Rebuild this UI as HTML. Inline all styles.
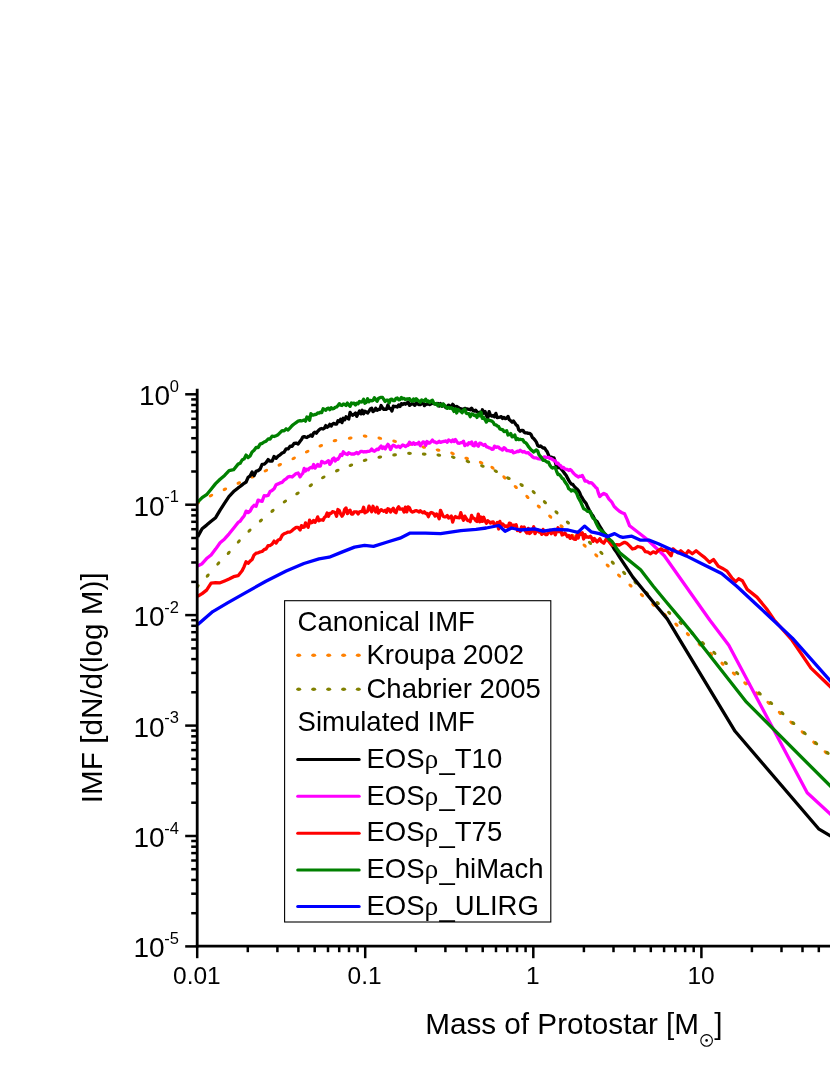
<!DOCTYPE html>
<html><head><meta charset="utf-8"><title>IMF</title>
<style>html,body{margin:0;padding:0;background:#fff;}svg{display:block;will-change:transform;}text{font-family:"Liberation Sans",sans-serif;}</style>
</head><body>
<svg width="830" height="1075" viewBox="0 0 830 1075">
<rect x="0" y="0" width="830" height="1075" fill="#ffffff"/>
<defs><clipPath id="plot"><rect x="197" y="380" width="640" height="567"/></clipPath></defs>
<g fill="#FF8000" clip-path="url(#plot)"><ellipse cx="197.6" cy="503.2" rx="2.4" ry="1.6" transform="rotate(-30 197.6 503.2)"/><ellipse cx="211.0" cy="495.6" rx="2.4" ry="1.6" transform="rotate(-24 211.0 495.6)"/><ellipse cx="224.9" cy="489.3" rx="2.4" ry="1.6" transform="rotate(-24 224.9 489.3)"/><ellipse cx="238.8" cy="483.0" rx="2.4" ry="1.6" transform="rotate(-24 238.8 483.0)"/><ellipse cx="252.8" cy="476.7" rx="2.4" ry="1.6" transform="rotate(-25 252.8 476.7)"/><ellipse cx="265.9" cy="470.6" rx="2.4" ry="1.6" transform="rotate(-23 265.9 470.6)"/><ellipse cx="279.8" cy="464.8" rx="2.4" ry="1.6" transform="rotate(-25 279.8 464.8)"/><ellipse cx="293.7" cy="458.4" rx="2.4" ry="1.6" transform="rotate(-27 293.7 458.4)"/><ellipse cx="307.2" cy="451.6" rx="2.4" ry="1.6" transform="rotate(-23 307.2 451.6)"/><ellipse cx="320.8" cy="445.8" rx="2.4" ry="1.6" transform="rotate(-20 320.8 445.8)"/><ellipse cx="335.0" cy="440.7" rx="2.4" ry="1.6" transform="rotate(-9 335.0 440.7)"/><ellipse cx="350.2" cy="438.2" rx="2.4" ry="1.6" transform="rotate(-8 350.2 438.2)"/><ellipse cx="365.1" cy="436.2" rx="2.4" ry="1.6" transform="rotate(8 365.1 436.2)"/><ellipse cx="379.8" cy="438.2" rx="2.4" ry="1.6" transform="rotate(11 379.8 438.2)"/><ellipse cx="394.6" cy="441.2" rx="2.4" ry="1.6" transform="rotate(12 394.6 441.2)"/><ellipse cx="409.0" cy="444.3" rx="2.4" ry="1.6" transform="rotate(11 409.0 444.3)"/><ellipse cx="423.7" cy="447.1" rx="2.4" ry="1.6" transform="rotate(12 423.7 447.1)"/><ellipse cx="438.1" cy="450.1" rx="2.4" ry="1.6" transform="rotate(13 438.1 450.1)"/><ellipse cx="452.5" cy="453.4" rx="2.4" ry="1.6" transform="rotate(19 452.5 453.4)"/><ellipse cx="466.7" cy="458.4" rx="2.4" ry="1.6" transform="rotate(17 466.7 458.4)"/><ellipse cx="481.1" cy="462.7" rx="2.4" ry="1.6" transform="rotate(24 481.1 462.7)"/><ellipse cx="492.5" cy="467.8" rx="2.4" ry="1.6" transform="rotate(39 492.5 467.8)"/><ellipse cx="504.4" cy="477.4" rx="2.4" ry="1.6" transform="rotate(40 504.4 477.4)"/><ellipse cx="515.8" cy="487.0" rx="2.4" ry="1.6" transform="rotate(40 515.8 487.0)"/><ellipse cx="527.4" cy="496.9" rx="2.4" ry="1.6" transform="rotate(40 527.4 496.9)"/><ellipse cx="538.8" cy="506.5" rx="2.4" ry="1.6" transform="rotate(42 538.8 506.5)"/><ellipse cx="550.2" cy="516.6" rx="2.4" ry="1.6" transform="rotate(40 550.2 516.6)"/><ellipse cx="561.6" cy="526.3" rx="2.4" ry="1.6" transform="rotate(40 561.6 526.3)"/><ellipse cx="573.0" cy="535.8" rx="2.4" ry="1.6" transform="rotate(40 573.0 535.8)"/><ellipse cx="584.6" cy="545.6" rx="2.4" ry="1.6" transform="rotate(40 584.6 545.6)"/><ellipse cx="596.3" cy="555.4" rx="2.4" ry="1.6" transform="rotate(42 596.3 555.4)"/><ellipse cx="607.7" cy="565.5" rx="2.4" ry="1.6" transform="rotate(42 607.7 565.5)"/><ellipse cx="619.1" cy="575.6" rx="2.4" ry="1.6" transform="rotate(41 619.1 575.6)"/><ellipse cx="630.5" cy="585.5" rx="2.4" ry="1.6" transform="rotate(40 630.5 585.5)"/><ellipse cx="641.9" cy="595.1" rx="2.4" ry="1.6" transform="rotate(40 641.9 595.1)"/><ellipse cx="653.3" cy="604.7" rx="2.4" ry="1.6" transform="rotate(41 653.3 604.7)"/><ellipse cx="665.2" cy="614.9" rx="2.4" ry="1.6" transform="rotate(41 665.2 614.9)"/><ellipse cx="676.5" cy="624.7" rx="2.4" ry="1.6" transform="rotate(40 676.5 624.7)"/><ellipse cx="687.9" cy="634.2" rx="2.4" ry="1.6" transform="rotate(41 687.9 634.2)"/><ellipse cx="699.7" cy="644.5" rx="2.4" ry="1.6" transform="rotate(40 699.7 644.5)"/><ellipse cx="711.1" cy="653.9" rx="2.4" ry="1.6" transform="rotate(41 711.1 653.9)"/><ellipse cx="722.5" cy="663.7" rx="2.4" ry="1.6" transform="rotate(41 722.5 663.7)"/><ellipse cx="733.9" cy="673.6" rx="2.4" ry="1.6" transform="rotate(40 733.9 673.6)"/><ellipse cx="745.3" cy="683.3" rx="2.4" ry="1.6" transform="rotate(41 745.3 683.3)"/><ellipse cx="757.1" cy="693.4" rx="2.4" ry="1.6" transform="rotate(40 757.1 693.4)"/><ellipse cx="768.5" cy="702.9" rx="2.4" ry="1.6" transform="rotate(41 768.5 702.9)"/><ellipse cx="779.9" cy="712.9" rx="2.4" ry="1.6" transform="rotate(40 779.9 712.9)"/><ellipse cx="791.4" cy="722.6" rx="2.4" ry="1.6" transform="rotate(41 791.4 722.6)"/><ellipse cx="802.7" cy="732.3" rx="2.4" ry="1.6" transform="rotate(42 802.7 732.3)"/><ellipse cx="814.3" cy="742.7" rx="2.4" ry="1.6" transform="rotate(40 814.3 742.7)"/><ellipse cx="825.7" cy="752.3" rx="2.4" ry="1.6" transform="rotate(40 825.7 752.3)"/></g>
<g fill="#808000" clip-path="url(#plot)"><ellipse cx="197.6" cy="586.3" rx="2.4" ry="1.6" transform="rotate(-47 197.6 586.3)"/><ellipse cx="207.7" cy="575.6" rx="2.4" ry="1.6" transform="rotate(-49 207.7 575.6)"/><ellipse cx="218.3" cy="563.5" rx="2.4" ry="1.6" transform="rotate(-46 218.3 563.5)"/><ellipse cx="228.7" cy="552.9" rx="2.4" ry="1.6" transform="rotate(-48 228.7 552.9)"/><ellipse cx="238.8" cy="541.5" rx="2.4" ry="1.6" transform="rotate(-46 238.8 541.5)"/><ellipse cx="249.5" cy="530.6" rx="2.4" ry="1.6" transform="rotate(-42 249.5 530.6)"/><ellipse cx="260.9" cy="520.5" rx="2.4" ry="1.6" transform="rotate(-40 260.9 520.5)"/><ellipse cx="272.5" cy="510.9" rx="2.4" ry="1.6" transform="rotate(-37 272.5 510.9)"/><ellipse cx="284.9" cy="501.5" rx="2.4" ry="1.6" transform="rotate(-33 284.9 501.5)"/><ellipse cx="297.5" cy="493.4" rx="2.4" ry="1.6" transform="rotate(-31 297.5 493.4)"/><ellipse cx="310.8" cy="485.3" rx="2.4" ry="1.6" transform="rotate(-32 310.8 485.3)"/><ellipse cx="323.3" cy="477.4" rx="2.4" ry="1.6" transform="rotate(-26 323.3 477.4)"/><ellipse cx="337.3" cy="470.6" rx="2.4" ry="1.6" transform="rotate(-21 337.3 470.6)"/><ellipse cx="350.9" cy="465.3" rx="2.4" ry="1.6" transform="rotate(-20 350.9 465.3)"/><ellipse cx="365.1" cy="460.2" rx="2.4" ry="1.6" transform="rotate(-12 365.1 460.2)"/><ellipse cx="379.8" cy="457.2" rx="2.4" ry="1.6" transform="rotate(-9 379.8 457.2)"/><ellipse cx="394.6" cy="454.9" rx="2.4" ry="1.6" transform="rotate(-6 394.6 454.9)"/><ellipse cx="409.5" cy="453.4" rx="2.4" ry="1.6" transform="rotate(3 409.5 453.4)"/><ellipse cx="424.2" cy="454.1" rx="2.4" ry="1.6" transform="rotate(4 424.2 454.1)"/><ellipse cx="438.8" cy="455.2" rx="2.4" ry="1.6" transform="rotate(8 438.8 455.2)"/><ellipse cx="453.3" cy="457.2" rx="2.4" ry="1.6" transform="rotate(16 453.3 457.2)"/><ellipse cx="467.9" cy="461.5" rx="2.4" ry="1.6" transform="rotate(17 467.9 461.5)"/><ellipse cx="482.4" cy="466.0" rx="2.4" ry="1.6" transform="rotate(21 482.4 466.0)"/><ellipse cx="495.8" cy="471.1" rx="2.4" ry="1.6" transform="rotate(29 495.8 471.1)"/><ellipse cx="508.4" cy="478.2" rx="2.4" ry="1.6" transform="rotate(27 508.4 478.2)"/><ellipse cx="521.6" cy="485.0" rx="2.4" ry="1.6" transform="rotate(30 521.6 485.0)"/><ellipse cx="533.7" cy="492.1" rx="2.4" ry="1.6" transform="rotate(42 533.7 492.1)"/><ellipse cx="544.9" cy="502.2" rx="2.4" ry="1.6" transform="rotate(41 544.9 502.2)"/><ellipse cx="556.5" cy="512.3" rx="2.4" ry="1.6" transform="rotate(42 556.5 512.3)"/><ellipse cx="567.9" cy="522.5" rx="2.4" ry="1.6" transform="rotate(42 567.9 522.5)"/><ellipse cx="579.0" cy="532.6" rx="2.4" ry="1.6" transform="rotate(43 579.0 532.6)"/><ellipse cx="590.0" cy="542.8" rx="2.4" ry="1.6" transform="rotate(42 590.0 542.8)"/><ellipse cx="601.4" cy="552.9" rx="2.4" ry="1.6" transform="rotate(41 601.4 552.9)"/><ellipse cx="612.8" cy="562.7" rx="2.4" ry="1.6" transform="rotate(42 612.8 562.7)"/><ellipse cx="624.2" cy="572.9" rx="2.4" ry="1.6" transform="rotate(40 624.2 572.9)"/><ellipse cx="635.5" cy="582.5" rx="2.4" ry="1.6" transform="rotate(43 635.5 582.5)"/><ellipse cx="646.9" cy="593.1" rx="2.4" ry="1.6" transform="rotate(42 646.9 593.1)"/><ellipse cx="657.8" cy="603.0" rx="2.4" ry="1.6" transform="rotate(41 657.8 603.0)"/><ellipse cx="669.2" cy="612.8" rx="2.4" ry="1.6" transform="rotate(41 669.2 612.8)"/><ellipse cx="680.6" cy="622.8" rx="2.4" ry="1.6" transform="rotate(42 680.6 622.8)"/><ellipse cx="692.0" cy="633.0" rx="2.4" ry="1.6" transform="rotate(43 692.0 633.0)"/><ellipse cx="703.0" cy="643.1" rx="2.4" ry="1.6" transform="rotate(41 703.0 643.1)"/><ellipse cx="714.4" cy="652.9" rx="2.4" ry="1.6" transform="rotate(42 714.4 652.9)"/><ellipse cx="725.8" cy="663.0" rx="2.4" ry="1.6" transform="rotate(42 725.8 663.0)"/><ellipse cx="737.2" cy="673.1" rx="2.4" ry="1.6" transform="rotate(42 737.2 673.1)"/><ellipse cx="748.5" cy="683.2" rx="2.4" ry="1.6" transform="rotate(42 748.5 683.2)"/><ellipse cx="759.7" cy="693.4" rx="2.4" ry="1.6" transform="rotate(40 759.7 693.4)"/><ellipse cx="771.1" cy="703.0" rx="2.4" ry="1.6" transform="rotate(42 771.1 703.0)"/><ellipse cx="782.4" cy="713.1" rx="2.4" ry="1.6" transform="rotate(42 782.4 713.1)"/><ellipse cx="793.3" cy="723.0" rx="2.4" ry="1.6" transform="rotate(42 793.3 723.0)"/><ellipse cx="804.7" cy="733.1" rx="2.4" ry="1.6" transform="rotate(42 804.7 733.1)"/><ellipse cx="816.1" cy="743.2" rx="2.4" ry="1.6" transform="rotate(40 816.1 743.2)"/><ellipse cx="827.5" cy="752.8" rx="2.4" ry="1.6" transform="rotate(40 827.5 752.8)"/></g>
<g fill="none" stroke-width="3.3" stroke-linejoin="round" stroke-linecap="butt" clip-path="url(#plot)">
<path stroke="#000000" d="M197.6,536.9 L202.1,528.7 L206.6,525.1 L211.1,521.3 L215.6,517.7 L220.1,510.1 L224.6,503.1 L229.1,496.4 L233.6,491.6 L238.1,487.9 L240.1,486.5 L242.1,484.9 L244.1,483.3 L246.1,482.0 L248.1,477.3 L250.1,476.0 L252.1,472.0 L254.1,475.6 L256.1,471.3 L258.1,470.6 L260.1,469.1 L262.1,464.3 L264.1,464.2 L266.1,462.5 L268.1,459.6 L270.1,461.2 L272.1,461.2 L274.1,456.5 L276.1,458.3 L278.1,456.2 L280.1,454.9 L282.1,453.0 L284.1,452.2 L286.1,448.9 L288.1,448.9 L290.1,446.2 L292.1,446.3 L294.1,443.4 L296.1,443.1 L298.1,444.1 L300.1,441.3 L301.5,439.5 L302.8,437.1 L304.2,436.6 L305.5,437.1 L306.9,437.5 L308.2,436.4 L309.6,436.1 L310.9,434.9 L312.3,436.2 L313.6,433.2 L315.0,432.2 L316.3,433.2 L317.7,431.3 L319.0,430.0 L320.4,428.8 L321.7,428.5 L323.1,429.0 L324.4,428.1 L325.8,425.6 L327.1,427.2 L328.5,426.4 L329.8,424.3 L331.2,426.1 L332.5,424.1 L333.9,423.3 L335.2,424.1 L336.6,424.1 L337.9,420.8 L339.3,421.5 L340.6,419.2 L342.0,422.6 L343.3,418.3 L344.7,419.8 L346.0,416.8 L347.4,418.0 L348.7,419.1 L350.1,412.3 L351.4,414.5 L352.8,415.3 L354.1,414.2 L355.5,413.1 L356.8,416.4 L358.2,413.4 L359.5,410.9 L360.9,413.9 L362.2,410.3 L363.6,413.8 L364.9,411.3 L366.3,412.0 L367.6,413.1 L369.0,411.3 L370.3,409.0 L371.7,408.3 L373.0,411.6 L374.4,410.7 L375.7,408.3 L377.1,410.2 L378.4,409.5 L379.8,409.4 L381.1,405.5 L382.5,407.9 L383.8,409.4 L385.2,409.1 L386.5,409.3 L387.9,404.9 L389.2,408.3 L390.6,408.6 L391.9,411.1 L393.3,406.2 L394.6,406.6 L396.0,406.5 L397.3,407.1 L398.7,404.9 L400.0,406.5 L401.4,403.6 L402.7,404.6 L404.1,403.4 L405.4,404.2 L406.8,403.1 L408.1,401.9 L409.5,405.4 L410.8,404.4 L412.2,403.3 L413.5,404.3 L414.9,405.3 L416.2,402.7 L417.6,403.9 L418.9,404.7 L420.3,404.7 L421.6,403.6 L423.0,401.3 L424.3,405.6 L425.7,404.5 L427.0,404.1 L428.4,403.8 L429.7,404.6 L431.1,403.8 L432.4,403.2 L433.8,403.7 L435.1,404.0 L436.5,404.1 L437.8,403.5 L439.2,406.0 L440.5,403.6 L441.9,406.3 L443.2,404.2 L444.6,406.1 L445.9,407.6 L447.3,406.2 L448.6,405.1 L450.0,406.3 L451.3,406.6 L452.7,404.3 L454.0,405.9 L455.4,407.1 L456.7,406.5 L458.1,407.4 L459.4,408.4 L460.8,408.7 L462.1,409.2 L463.5,409.1 L464.8,408.3 L466.2,409.0 L467.5,409.0 L468.9,409.3 L470.2,409.8 L471.6,408.2 L472.9,410.4 L474.3,411.1 L475.6,410.2 L477.0,411.8 L478.3,412.8 L479.7,412.3 L481.0,415.6 L482.4,409.8 L483.7,413.3 L485.1,411.5 L486.4,415.5 L487.8,418.0 L489.1,411.7 L490.5,415.4 L491.8,416.2 L493.2,415.4 L494.5,416.8 L495.9,413.4 L497.2,417.6 L498.6,417.3 L499.9,417.1 L501.3,416.6 L502.6,418.5 L504.0,417.4 L505.3,418.7 L506.7,418.2 L508.0,416.4 L509.4,419.8 L510.7,420.8 L512.1,422.2 L513.4,420.9 L514.8,422.9 L516.1,424.8 L517.5,425.8 L518.8,429.9 L520.2,431.2 L521.5,430.3 L522.9,430.3 L524.2,432.2 L525.6,432.9 L526.9,432.9 L528.3,433.4 L529.6,433.3 L531.0,434.5 L532.3,437.4 L533.7,438.6 L535.0,440.1 L536.4,442.2 L537.7,445.5 L539.1,446.4 L540.4,446.0 L541.8,446.9 L543.1,448.0 L544.5,448.0 L545.8,449.9 L547.2,451.8 L548.5,455.0 L549.9,457.9 L551.2,457.1 L552.6,457.7 L553.9,457.8 L555.3,462.0 L556.6,466.9 L558.0,467.6 L559.3,467.7 L560.7,468.3 L562.0,470.0 L563.4,471.7 L564.7,473.6 L566.1,475.3 L567.4,477.8 L568.8,480.4 L570.1,482.5 L571.5,484.1 L572.8,484.4 L574.2,486.4 L575.5,487.7 L576.9,488.9 L578.2,490.3 L579.6,492.7 L580.9,495.9 L582.3,498.0 L583.6,500.4 L585.0,502.1 L586.3,503.8 L587.7,507.1 L589.0,509.6 L590.4,512.5 L591.7,514.3 L593.1,516.1 L594.4,519.0 L595.8,520.7 L597.1,521.6 L598.5,524.0 L599.8,526.5 L601.2,528.5 L603.8,532.9 L606.4,535.3 L609.0,539.4 L611.6,544.1 L614.2,549.0 L616.8,552.6 L620.4,558.4 L633.0,577.4 L644.4,591.3 L655.8,605.3 L667.2,618.9 L673.5,629.3 L679.8,639.9 L735.1,731.3 L818.6,828.8 L832.0,836.8"/>
<path stroke="#FF00FF" d="M197.6,566.0 L202.1,563.7 L206.6,558.6 L211.1,554.9 L215.6,549.1 L220.1,542.7 L224.6,538.9 L229.1,533.8 L233.6,528.2 L238.1,522.4 L240.1,521.3 L242.1,518.4 L244.1,516.0 L246.1,511.1 L248.1,512.6 L250.1,511.1 L252.1,507.4 L254.1,505.3 L256.1,506.2 L258.1,500.1 L260.1,500.9 L262.1,501.4 L264.1,495.7 L266.1,495.8 L268.1,495.4 L270.1,491.4 L272.1,490.4 L274.1,488.8 L276.1,484.7 L278.1,483.9 L280.1,482.9 L282.1,482.3 L284.1,480.2 L286.1,478.9 L288.1,476.8 L290.1,476.5 L292.1,477.0 L294.1,475.2 L296.1,473.5 L298.1,473.0 L300.1,476.9 L301.5,474.6 L302.8,473.4 L304.2,468.4 L305.5,471.0 L306.9,469.2 L308.2,469.9 L309.6,468.1 L310.9,467.3 L312.3,467.9 L313.6,464.5 L315.0,468.1 L316.3,466.5 L317.7,464.4 L319.0,466.2 L320.4,466.1 L321.7,461.4 L323.1,462.0 L324.4,463.0 L325.8,462.6 L327.1,461.7 L328.5,460.7 L329.8,464.4 L331.2,462.6 L332.5,459.0 L333.9,458.0 L335.2,461.0 L336.6,459.1 L337.9,459.3 L339.3,457.2 L340.6,454.5 L342.0,455.4 L343.3,451.8 L344.7,453.3 L346.0,454.0 L347.4,454.5 L348.7,452.8 L350.1,453.4 L351.4,454.1 L352.8,453.8 L354.1,454.0 L355.5,453.3 L356.8,452.4 L358.2,453.7 L359.5,452.6 L360.9,451.3 L362.2,451.4 L363.6,452.0 L364.9,451.7 L366.3,451.8 L367.6,451.4 L369.0,451.4 L370.3,450.7 L371.7,449.0 L373.0,450.8 L374.4,451.3 L375.7,450.2 L377.1,449.1 L378.4,449.6 L379.8,447.5 L381.1,446.0 L382.5,448.4 L383.8,446.9 L385.2,448.9 L386.5,446.5 L387.9,444.3 L389.2,446.2 L390.6,449.5 L391.9,446.7 L393.3,445.2 L394.6,445.7 L396.0,447.1 L397.3,446.8 L398.7,446.1 L400.0,447.5 L401.4,446.2 L402.7,444.9 L404.1,445.5 L405.4,446.6 L406.8,445.5 L408.1,445.3 L409.5,442.3 L410.8,443.3 L412.2,444.3 L413.5,442.7 L414.9,444.3 L416.2,443.6 L417.6,443.8 L418.9,442.3 L420.3,445.7 L421.6,443.9 L423.0,441.9 L424.3,442.3 L425.7,445.4 L427.0,441.5 L428.4,443.0 L429.7,443.1 L431.1,441.7 L432.4,440.1 L433.8,441.8 L435.1,442.0 L436.5,442.9 L437.8,442.4 L439.2,441.3 L440.5,442.4 L441.9,441.9 L443.2,441.5 L444.6,441.3 L445.9,440.9 L447.3,442.2 L448.6,440.0 L450.0,440.7 L451.3,441.7 L452.7,439.9 L454.0,441.4 L455.4,439.5 L456.7,441.4 L458.1,443.2 L459.4,443.3 L460.8,442.7 L462.1,442.6 L463.5,441.2 L464.8,445.6 L466.2,444.1 L467.5,445.0 L468.9,442.7 L470.2,443.8 L471.6,441.9 L472.9,445.5 L474.3,445.9 L475.6,442.4 L477.0,445.1 L478.3,446.2 L479.7,443.2 L481.0,443.4 L482.4,444.6 L483.7,445.3 L485.1,444.5 L486.4,446.6 L487.8,447.1 L489.1,447.8 L490.5,448.1 L491.8,449.3 L493.2,449.1 L494.5,446.1 L495.9,447.4 L497.2,446.9 L498.6,447.1 L499.9,448.7 L501.3,449.1 L502.6,450.1 L504.0,447.7 L505.3,448.6 L506.7,450.5 L508.0,450.6 L509.4,450.8 L510.7,451.4 L512.1,450.7 L513.4,452.8 L514.8,452.5 L516.1,452.0 L517.5,451.2 L518.8,451.6 L520.2,450.2 L521.5,451.2 L522.9,452.0 L524.2,451.4 L525.6,452.6 L526.9,452.9 L528.3,452.6 L529.6,454.1 L531.0,455.1 L532.3,456.6 L533.7,457.6 L535.0,457.9 L536.4,457.9 L537.7,458.7 L539.1,458.9 L540.4,459.1 L541.8,458.4 L543.1,457.4 L544.5,456.8 L545.8,457.3 L547.2,457.3 L548.5,457.4 L549.9,458.4 L551.2,458.7 L552.6,459.6 L553.9,460.5 L555.3,460.9 L556.6,463.5 L558.0,463.2 L559.3,465.1 L560.7,465.8 L562.0,467.9 L563.4,467.4 L564.7,468.8 L566.1,469.3 L567.4,469.5 L568.8,470.5 L570.1,469.4 L571.5,470.6 L572.8,472.4 L574.2,473.9 L575.5,475.1 L576.9,476.0 L578.2,477.1 L579.6,476.2 L580.9,476.3 L582.3,475.4 L583.6,477.9 L585.0,481.0 L586.3,480.9 L587.7,481.6 L589.0,482.8 L590.4,482.6 L591.7,482.8 L593.1,484.3 L594.4,485.8 L595.8,487.5 L597.1,488.6 L598.5,493.4 L599.8,496.5 L601.2,495.2 L603.8,493.4 L606.4,494.8 L609.0,499.2 L611.6,501.8 L614.2,506.5 L616.8,509.0 L619.4,511.2 L622.0,512.7 L624.6,513.8 L627.2,519.6 L629.6,525.8 L647.0,539.3 L664.3,555.7 L709.7,620.0 L728.8,645.3 L807.2,792.8 L832.0,815.6"/>
<path stroke="#FF0000" d="M197.6,596.4 L202.1,593.6 L206.6,590.1 L211.1,583.2 L215.6,582.7 L220.1,582.8 L224.6,580.9 L229.1,579.0 L233.6,576.7 L238.1,575.7 L240.1,573.2 L242.1,570.7 L244.1,566.7 L246.1,561.7 L248.1,563.3 L250.1,561.1 L252.1,559.5 L254.1,554.9 L256.1,553.2 L258.1,552.8 L260.1,551.9 L262.1,551.5 L264.1,549.6 L266.1,548.9 L268.1,545.7 L270.1,545.5 L272.1,544.1 L274.1,541.1 L276.1,543.0 L278.1,540.0 L280.1,539.4 L282.1,535.4 L284.1,533.8 L286.1,533.0 L288.1,532.1 L290.1,532.0 L292.1,530.6 L294.1,528.8 L296.1,527.4 L298.1,527.4 L300.1,530.0 L301.5,525.6 L302.8,527.3 L304.2,527.2 L305.5,522.9 L306.9,525.4 L308.2,527.3 L309.6,520.1 L310.9,522.8 L312.3,522.5 L313.6,520.4 L315.0,522.3 L316.3,520.4 L317.7,516.9 L319.0,520.8 L320.4,519.9 L321.7,519.8 L323.1,520.2 L324.4,517.5 L325.8,516.4 L327.1,513.0 L328.5,516.3 L329.8,513.4 L331.2,513.4 L332.5,511.6 L333.9,512.0 L335.2,512.7 L336.6,516.3 L337.9,509.5 L339.3,510.6 L340.6,513.9 L342.0,516.2 L343.3,514.4 L344.7,509.3 L346.0,508.0 L347.4,513.6 L348.7,511.2 L350.1,510.2 L351.4,514.1 L352.8,514.1 L354.1,511.9 L355.5,511.8 L356.8,512.0 L358.2,514.0 L359.5,511.9 L360.9,511.5 L362.2,511.5 L363.6,507.2 L364.9,512.8 L366.3,512.1 L367.6,511.2 L369.0,506.1 L370.3,508.8 L371.7,511.7 L373.0,506.3 L374.4,509.6 L375.7,511.9 L377.1,507.3 L378.4,513.1 L379.8,511.0 L381.1,509.6 L382.5,510.6 L383.8,511.3 L385.2,510.2 L386.5,512.3 L387.9,508.7 L389.2,509.2 L390.6,512.1 L391.9,510.0 L393.3,508.2 L394.6,511.7 L396.0,512.7 L397.3,508.8 L398.7,506.8 L400.0,509.2 L401.4,509.1 L402.7,508.8 L404.1,512.1 L405.4,507.2 L406.8,511.9 L408.1,506.9 L409.5,507.9 L410.8,510.9 L412.2,512.1 L413.5,511.7 L414.9,510.9 L416.2,510.7 L417.6,511.0 L418.9,512.1 L420.3,510.8 L421.6,511.9 L423.0,512.8 L424.3,511.8 L425.7,513.6 L427.0,513.5 L428.4,516.7 L429.7,513.6 L431.1,512.5 L432.4,512.9 L433.8,513.9 L435.1,516.1 L436.5,513.9 L437.8,515.6 L439.2,518.8 L440.5,510.3 L441.9,513.4 L443.2,516.3 L444.6,516.9 L445.9,516.8 L447.3,515.6 L448.6,518.0 L450.0,517.4 L451.3,516.0 L452.7,522.1 L454.0,518.1 L455.4,516.5 L456.7,517.5 L458.1,517.4 L459.4,517.9 L460.8,512.7 L462.1,517.2 L463.5,520.3 L464.8,516.1 L466.2,518.3 L467.5,520.5 L468.9,520.4 L470.2,521.7 L471.6,515.4 L472.9,518.2 L474.3,518.4 L475.6,520.4 L477.0,521.5 L478.3,514.1 L479.7,521.8 L481.0,517.0 L482.4,521.4 L483.7,517.3 L485.1,520.9 L486.4,523.2 L487.8,520.7 L489.1,521.7 L490.5,523.1 L491.8,522.1 L493.2,521.9 L494.5,525.5 L495.9,524.9 L497.2,522.5 L498.6,529.0 L499.9,521.5 L501.3,526.0 L502.6,524.0 L504.0,525.2 L505.3,526.6 L506.7,526.0 L508.0,527.2 L509.4,523.1 L510.7,523.5 L512.1,528.0 L513.4,525.2 L514.8,525.3 L516.1,524.7 L517.5,530.5 L518.8,529.7 L520.2,531.5 L521.5,526.9 L522.9,529.1 L524.2,527.1 L525.6,531.2 L526.9,533.1 L528.3,528.4 L529.6,533.5 L531.0,532.5 L532.3,530.3 L533.7,526.8 L535.0,533.7 L536.4,530.8 L537.7,529.9 L539.1,532.0 L540.4,532.1 L541.8,534.3 L543.1,529.4 L544.5,533.7 L545.8,534.5 L547.2,534.5 L548.5,531.3 L549.9,530.2 L551.2,533.8 L552.6,532.0 L553.9,532.1 L555.3,534.8 L556.6,531.5 L558.0,527.7 L559.3,531.8 L560.7,529.2 L562.0,535.0 L563.4,534.4 L564.7,533.0 L566.1,534.5 L567.4,536.6 L568.8,535.5 L570.1,538.4 L571.5,535.8 L572.8,538.2 L574.2,539.1 L575.5,539.4 L576.9,534.9 L578.2,538.0 L579.6,532.6 L580.9,534.3 L582.3,532.7 L583.6,539.0 L585.0,534.6 L586.3,537.2 L587.7,536.9 L589.0,537.3 L590.4,536.2 L591.7,538.0 L593.1,541.4 L594.4,538.5 L595.8,540.3 L597.1,542.0 L598.5,540.3 L599.8,538.8 L601.2,541.4 L603.8,543.2 L606.4,538.9 L609.0,541.7 L611.6,544.9 L614.2,545.4 L616.8,544.6 L619.4,545.0 L622.0,543.6 L624.6,542.3 L627.2,543.6 L629.8,546.1 L632.4,549.0 L635.0,548.4 L637.6,546.5 L640.2,547.0 L642.8,548.1 L645.4,551.7 L648.0,552.1 L650.6,553.8 L653.2,551.8 L655.8,553.0 L658.4,550.4 L661.0,548.8 L663.6,550.6 L666.3,549.9 L671.1,555.7 L673.0,548.9 L677.8,552.8 L680.7,550.8 L685.5,554.7 L688.4,550.8 L692.3,553.7 L696.1,550.8 L701.0,554.7 L704.8,557.6 L709.6,562.4 L713.5,559.5 L718.3,566.3 L722.2,568.2 L727.0,571.1 L731.8,577.8 L735.7,581.7 L738.6,578.8 L742.4,580.7 L747.2,589.4 L756.9,597.1 L766.5,608.7 L774.2,620.0 L792.1,640.2 L811.0,668.1 L832.0,688.3"/>
<path stroke="#008000" d="M197.6,502.2 L202.1,497.7 L206.6,494.7 L211.1,489.2 L215.6,483.6 L220.1,479.3 L224.6,475.4 L229.1,470.6 L233.6,469.7 L238.1,464.1 L240.1,463.3 L242.1,460.0 L244.1,458.9 L246.1,455.1 L248.1,457.6 L250.1,455.9 L252.1,451.9 L254.1,450.2 L256.1,447.5 L258.1,447.6 L260.1,444.1 L262.1,443.4 L264.1,442.0 L266.1,441.2 L268.1,439.0 L270.1,439.0 L272.1,436.1 L274.1,436.5 L276.1,435.7 L278.1,434.7 L280.1,432.7 L282.1,430.7 L284.1,430.8 L286.1,428.8 L288.1,430.0 L290.1,427.8 L292.1,425.6 L294.1,424.0 L296.1,422.6 L298.1,421.2 L300.1,420.7 L301.5,420.9 L302.8,420.5 L304.2,419.9 L305.5,421.2 L306.9,417.0 L308.2,417.3 L309.6,420.3 L310.9,413.7 L312.3,414.8 L313.6,415.1 L315.0,414.5 L316.3,414.3 L317.7,412.9 L319.0,413.1 L320.4,412.2 L321.7,412.6 L323.1,408.7 L324.4,409.6 L325.8,410.3 L327.1,408.5 L328.5,408.1 L329.8,409.8 L331.2,407.7 L332.5,408.8 L333.9,408.4 L335.2,407.3 L336.6,407.0 L337.9,405.7 L339.3,403.7 L340.6,405.2 L342.0,405.5 L343.3,404.0 L344.7,404.4 L346.0,405.4 L347.4,403.1 L348.7,404.9 L350.1,406.3 L351.4,403.0 L352.8,403.7 L354.1,403.1 L355.5,405.0 L356.8,403.2 L358.2,403.7 L359.5,401.4 L360.9,402.0 L362.2,401.8 L363.6,399.3 L364.9,403.2 L366.3,402.3 L367.6,398.7 L369.0,401.7 L370.3,400.3 L371.7,400.8 L373.0,400.5 L374.4,397.8 L375.7,399.3 L377.1,401.3 L378.4,398.5 L379.8,397.8 L381.1,397.3 L382.5,397.4 L383.8,399.5 L385.2,401.5 L386.5,400.1 L387.9,400.1 L389.2,402.9 L390.6,399.3 L391.9,399.1 L393.3,400.6 L394.6,400.5 L396.0,398.3 L397.3,398.0 L398.7,399.8 L400.0,399.6 L401.4,397.5 L402.7,398.8 L404.1,398.3 L405.4,399.6 L406.8,398.9 L408.1,399.0 L409.5,398.7 L410.8,400.6 L412.2,401.2 L413.5,399.0 L414.9,400.7 L416.2,398.8 L417.6,400.1 L418.9,401.1 L420.3,402.3 L421.6,400.0 L423.0,400.6 L424.3,401.2 L425.7,399.2 L427.0,401.5 L428.4,400.9 L429.7,402.6 L431.1,401.0 L432.4,400.3 L433.8,403.3 L435.1,404.0 L436.5,403.4 L437.8,405.7 L439.2,404.5 L440.5,404.5 L441.9,406.3 L443.2,404.0 L444.6,405.5 L445.9,406.8 L447.3,408.3 L448.6,407.4 L450.0,408.4 L451.3,407.6 L452.7,409.2 L454.0,411.4 L455.4,408.7 L456.7,413.0 L458.1,409.5 L459.4,410.7 L460.8,411.3 L462.1,412.7 L463.5,410.1 L464.8,409.3 L466.2,413.1 L467.5,413.6 L468.9,413.7 L470.2,416.7 L471.6,413.9 L472.9,414.3 L474.3,415.6 L475.6,415.2 L477.0,417.4 L478.3,414.1 L479.7,415.7 L481.0,412.3 L482.4,418.4 L483.7,417.5 L485.1,419.8 L486.4,422.1 L487.8,419.9 L489.1,420.3 L490.5,420.7 L491.8,421.1 L493.2,422.2 L494.5,424.7 L495.9,424.9 L497.2,425.9 L498.6,426.6 L499.9,429.0 L501.3,429.5 L502.6,429.6 L504.0,431.5 L505.3,431.3 L506.7,430.8 L508.0,435.0 L509.4,434.6 L510.7,433.5 L512.1,436.9 L513.4,436.7 L514.8,434.9 L516.1,439.6 L517.5,438.5 L518.8,439.7 L520.2,439.2 L521.5,439.7 L522.9,439.7 L524.2,442.1 L525.6,442.7 L526.9,444.2 L528.3,446.4 L529.6,448.0 L531.0,449.8 L532.3,450.7 L533.7,452.0 L535.0,450.9 L536.4,450.0 L537.7,451.1 L539.1,454.9 L540.4,456.4 L541.8,458.1 L543.1,460.3 L544.5,460.1 L545.8,461.2 L547.2,462.2 L548.5,462.1 L549.9,465.3 L551.2,467.1 L552.6,468.0 L553.9,467.4 L555.3,467.6 L556.6,471.3 L558.0,474.5 L559.3,474.5 L560.7,476.1 L562.0,478.2 L563.4,479.0 L564.7,481.5 L566.1,483.4 L567.4,485.4 L568.8,488.8 L570.1,489.4 L571.5,491.1 L572.8,490.0 L574.2,490.8 L575.5,491.7 L576.9,493.9 L578.2,497.5 L579.6,499.9 L580.9,502.3 L582.3,505.7 L583.6,508.7 L585.0,509.3 L586.3,510.3 L587.7,511.4 L589.0,511.6 L590.4,511.7 L591.7,515.6 L593.1,518.2 L594.4,518.7 L595.8,522.3 L597.1,525.1 L598.5,527.8 L599.8,529.5 L601.2,530.6 L603.8,532.6 L606.4,535.7 L609.0,539.1 L611.6,541.1 L614.2,544.6 L616.8,548.8 L620.4,553.4 L640.6,569.8 L653.3,586.3 L665.9,601.5 L678.6,616.6 L691.2,631.8 L746.5,702.2 L832.0,787.7"/>
<path stroke="#0000FF" d="M197.6,624.7 L212.8,611.6 L228.0,602.7 L245.7,592.6 L265.9,581.2 L286.2,571.1 L303.9,563.5 L319.0,558.9 L329.2,557.2 L341.8,552.1 L354.5,547.1 L364.6,545.3 L373.5,546.3 L387.4,542.0 L400.0,538.2 L410.2,533.1 L425.4,533.1 L440.6,533.6 L460.8,530.6 L476.0,529.3 L486.2,528.0 L498.8,525.5 L505.1,531.3 L511.5,528.0 L520.0,530.0 L534.5,528.8 L542.9,531.2 L554.9,529.4 L568.2,530.0 L577.8,532.4 L584.5,526.1 L591.1,531.8 L599.5,533.6 L607.3,536.6 L614.6,533.6 L620.0,536.6 L622.9,537.4 L631.8,536.2 L640.6,540.2 L649.5,540.2 L658.3,543.8 L671.0,549.6 L686.2,555.9 L703.9,564.8 L721.6,573.6 L736.8,586.3 L754.5,602.7 L772.2,619.2 L792.4,638.1 L832.0,682.7"/>
</g>
<g stroke="#000" stroke-width="2.8" fill="none" stroke-linecap="butt">
<line x1="197.2" y1="388.7" x2="197.2" y2="947.6"/>
<line x1="195.79999999999998" y1="946.2" x2="831" y2="946.2"/>
</g>
<g stroke="#000" stroke-width="2.5" fill="none">
<line x1="185.2" y1="394.3" x2="197.2" y2="394.3"/>
<line x1="191.2" y1="471.5" x2="197.2" y2="471.5"/>
<line x1="191.2" y1="452.0" x2="197.2" y2="452.0"/>
<line x1="191.2" y1="438.2" x2="197.2" y2="438.2"/>
<line x1="191.2" y1="427.5" x2="197.2" y2="427.5"/>
<line x1="191.2" y1="418.8" x2="197.2" y2="418.8"/>
<line x1="191.2" y1="411.4" x2="197.2" y2="411.4"/>
<line x1="191.2" y1="405.0" x2="197.2" y2="405.0"/>
<line x1="191.2" y1="399.4" x2="197.2" y2="399.4"/>
<line x1="185.2" y1="504.7" x2="197.2" y2="504.7"/>
<line x1="191.2" y1="581.9" x2="197.2" y2="581.9"/>
<line x1="191.2" y1="562.5" x2="197.2" y2="562.5"/>
<line x1="191.2" y1="548.7" x2="197.2" y2="548.7"/>
<line x1="191.2" y1="538.0" x2="197.2" y2="538.0"/>
<line x1="191.2" y1="529.2" x2="197.2" y2="529.2"/>
<line x1="191.2" y1="521.8" x2="197.2" y2="521.8"/>
<line x1="191.2" y1="515.4" x2="197.2" y2="515.4"/>
<line x1="191.2" y1="509.8" x2="197.2" y2="509.8"/>
<line x1="185.2" y1="615.1" x2="197.2" y2="615.1"/>
<line x1="191.2" y1="692.3" x2="197.2" y2="692.3"/>
<line x1="191.2" y1="672.9" x2="197.2" y2="672.9"/>
<line x1="191.2" y1="659.1" x2="197.2" y2="659.1"/>
<line x1="191.2" y1="648.4" x2="197.2" y2="648.4"/>
<line x1="191.2" y1="639.6" x2="197.2" y2="639.6"/>
<line x1="191.2" y1="632.2" x2="197.2" y2="632.2"/>
<line x1="191.2" y1="625.8" x2="197.2" y2="625.8"/>
<line x1="191.2" y1="620.2" x2="197.2" y2="620.2"/>
<line x1="185.2" y1="725.6" x2="197.2" y2="725.6"/>
<line x1="191.2" y1="802.7" x2="197.2" y2="802.7"/>
<line x1="191.2" y1="783.3" x2="197.2" y2="783.3"/>
<line x1="191.2" y1="769.5" x2="197.2" y2="769.5"/>
<line x1="191.2" y1="758.8" x2="197.2" y2="758.8"/>
<line x1="191.2" y1="750.1" x2="197.2" y2="750.1"/>
<line x1="191.2" y1="742.7" x2="197.2" y2="742.7"/>
<line x1="191.2" y1="736.3" x2="197.2" y2="736.3"/>
<line x1="191.2" y1="730.6" x2="197.2" y2="730.6"/>
<line x1="185.2" y1="836.0" x2="197.2" y2="836.0"/>
<line x1="191.2" y1="913.2" x2="197.2" y2="913.2"/>
<line x1="191.2" y1="893.7" x2="197.2" y2="893.7"/>
<line x1="191.2" y1="879.9" x2="197.2" y2="879.9"/>
<line x1="191.2" y1="869.2" x2="197.2" y2="869.2"/>
<line x1="191.2" y1="860.5" x2="197.2" y2="860.5"/>
<line x1="191.2" y1="853.1" x2="197.2" y2="853.1"/>
<line x1="191.2" y1="846.7" x2="197.2" y2="846.7"/>
<line x1="191.2" y1="841.0" x2="197.2" y2="841.0"/>
<line x1="185.2" y1="946.4" x2="197.2" y2="946.4"/>
<line x1="197.2" y1="946.2" x2="197.2" y2="958.2"/>
<line x1="247.8" y1="946.2" x2="247.8" y2="952.2"/>
<line x1="277.4" y1="946.2" x2="277.4" y2="952.2"/>
<line x1="298.4" y1="946.2" x2="298.4" y2="952.2"/>
<line x1="314.7" y1="946.2" x2="314.7" y2="952.2"/>
<line x1="328.0" y1="946.2" x2="328.0" y2="952.2"/>
<line x1="339.2" y1="946.2" x2="339.2" y2="952.2"/>
<line x1="349.0" y1="946.2" x2="349.0" y2="952.2"/>
<line x1="357.6" y1="946.2" x2="357.6" y2="952.2"/>
<line x1="365.2" y1="946.2" x2="365.2" y2="958.2"/>
<line x1="415.8" y1="946.2" x2="415.8" y2="952.2"/>
<line x1="445.4" y1="946.2" x2="445.4" y2="952.2"/>
<line x1="466.4" y1="946.2" x2="466.4" y2="952.2"/>
<line x1="482.7" y1="946.2" x2="482.7" y2="952.2"/>
<line x1="496.0" y1="946.2" x2="496.0" y2="952.2"/>
<line x1="507.3" y1="946.2" x2="507.3" y2="952.2"/>
<line x1="517.0" y1="946.2" x2="517.0" y2="952.2"/>
<line x1="525.6" y1="946.2" x2="525.6" y2="952.2"/>
<line x1="533.3" y1="946.2" x2="533.3" y2="958.2"/>
<line x1="583.9" y1="946.2" x2="583.9" y2="952.2"/>
<line x1="613.5" y1="946.2" x2="613.5" y2="952.2"/>
<line x1="634.5" y1="946.2" x2="634.5" y2="952.2"/>
<line x1="650.8" y1="946.2" x2="650.8" y2="952.2"/>
<line x1="664.1" y1="946.2" x2="664.1" y2="952.2"/>
<line x1="675.3" y1="946.2" x2="675.3" y2="952.2"/>
<line x1="685.1" y1="946.2" x2="685.1" y2="952.2"/>
<line x1="693.7" y1="946.2" x2="693.7" y2="952.2"/>
<line x1="701.4" y1="946.2" x2="701.4" y2="958.2"/>
<line x1="751.9" y1="946.2" x2="751.9" y2="952.2"/>
<line x1="781.5" y1="946.2" x2="781.5" y2="952.2"/>
<line x1="802.5" y1="946.2" x2="802.5" y2="952.2"/>
<line x1="818.8" y1="946.2" x2="818.8" y2="952.2"/>
<line x1="832.1" y1="946.2" x2="832.1" y2="952.2"/>
</g>
<g font-family="'Liberation Sans', sans-serif" fill="#000">
<text x="170.1" y="405.3" font-size="28" text-anchor="end">10</text>
<text x="169.7" y="391.9" font-size="16.5" text-anchor="start">0</text>
<text x="164.6" y="515.7" font-size="28" text-anchor="end">10</text>
<text x="164.2" y="502.3" font-size="16.5" text-anchor="start">-1</text>
<text x="164.6" y="626.1" font-size="28" text-anchor="end">10</text>
<text x="164.2" y="612.7" font-size="16.5" text-anchor="start">-2</text>
<text x="164.6" y="736.6" font-size="28" text-anchor="end">10</text>
<text x="164.2" y="723.2" font-size="16.5" text-anchor="start">-3</text>
<text x="164.6" y="847.0" font-size="28" text-anchor="end">10</text>
<text x="164.2" y="833.6" font-size="16.5" text-anchor="start">-4</text>
<text x="164.6" y="957.4" font-size="28" text-anchor="end">10</text>
<text x="164.2" y="944.0" font-size="16.5" text-anchor="start">-5</text>
<text x="173.0" y="984.2" font-size="24.5" text-anchor="start">0.01</text>
<text x="347.5" y="984.2" font-size="24.5" text-anchor="start">0.1</text>
<text x="526.0" y="984.2" font-size="24.5" text-anchor="start">1</text>
<text x="687.4" y="984.2" font-size="24.5" text-anchor="start">10</text>
<text x="425.2" y="1034.2" font-size="29.7">Mass of Protostar [M</text>
<text x="714.2" y="1034.2" font-size="29.7">]</text>
<text transform="translate(102.0 803.2) rotate(-90)" font-size="29.7">IMF [dN/d(log M)]</text>
</g>
<circle cx="706.6" cy="1040.4" r="5.8" fill="none" stroke="#000" stroke-width="1.1"/>
<circle cx="706.6" cy="1040.4" r="1.3" fill="#000"/>
<rect x="284.6" y="600.7" width="266.2" height="321.3" fill="#fff" stroke="#000" stroke-width="1.1"/>
<g font-family="'Liberation Sans', sans-serif" font-size="27.5" fill="#000">
<text x="297.6" y="631">Canonical IMF</text>
<text x="366.5" y="664.3">Kroupa 2002</text>
<text x="366.5" y="697.5">Chabrier 2005</text>
<text x="297.6" y="731">Simulated IMF</text>
<text x="366.5" y="768.2">EOS<tspan font-family="'Liberation Serif', serif">ρ</tspan><tspan dx="1.2" dy="0.8">_</tspan><tspan dy="-0.8">T10</tspan></text>
<text x="366.5" y="804.6">EOS<tspan font-family="'Liberation Serif', serif">ρ</tspan><tspan dx="1.2" dy="0.8">_</tspan><tspan dy="-0.8">T20</tspan></text>
<text x="366.5" y="841.0">EOS<tspan font-family="'Liberation Serif', serif">ρ</tspan><tspan dx="1.2" dy="0.8">_</tspan><tspan dy="-0.8">T75</tspan></text>
<text x="366.5" y="878.0">EOS<tspan font-family="'Liberation Serif', serif">ρ</tspan><tspan dx="1.2" dy="0.8">_</tspan><tspan dy="-0.8">hiMach</tspan></text>
<text x="366.5" y="914.8">EOS<tspan font-family="'Liberation Serif', serif">ρ</tspan><tspan dx="1.2" dy="0.8">_</tspan><tspan dy="-0.8">ULIRG</tspan></text>
</g>
<line x1="297.7" y1="759.4" x2="359.2" y2="759.4" stroke="#000000" stroke-width="3" stroke-linecap="round"/>
<line x1="297.7" y1="796.3" x2="359.2" y2="796.3" stroke="#FF00FF" stroke-width="3" stroke-linecap="round"/>
<line x1="297.7" y1="833.3" x2="359.2" y2="833.3" stroke="#FF0000" stroke-width="3" stroke-linecap="round"/>
<line x1="297.7" y1="869.9" x2="359.2" y2="869.9" stroke="#008000" stroke-width="3" stroke-linecap="round"/>
<line x1="297.7" y1="906.6" x2="359.2" y2="906.6" stroke="#0000FF" stroke-width="3" stroke-linecap="round"/>
<ellipse cx="298.7" cy="655.3" rx="2.5" ry="1.7" fill="#FF8000"/>
<ellipse cx="313.7" cy="655.3" rx="2.5" ry="1.7" fill="#FF8000"/>
<ellipse cx="328.7" cy="655.3" rx="2.5" ry="1.7" fill="#FF8000"/>
<ellipse cx="343.6" cy="655.3" rx="2.5" ry="1.7" fill="#FF8000"/>
<ellipse cx="358.3" cy="655.3" rx="2.5" ry="1.7" fill="#FF8000"/>
<ellipse cx="298.7" cy="689.2" rx="2.5" ry="1.7" fill="#808000"/>
<ellipse cx="313.7" cy="689.2" rx="2.5" ry="1.7" fill="#808000"/>
<ellipse cx="328.7" cy="689.2" rx="2.5" ry="1.7" fill="#808000"/>
<ellipse cx="343.6" cy="689.2" rx="2.5" ry="1.7" fill="#808000"/>
<ellipse cx="358.3" cy="689.2" rx="2.5" ry="1.7" fill="#808000"/>
</svg>
</body></html>
